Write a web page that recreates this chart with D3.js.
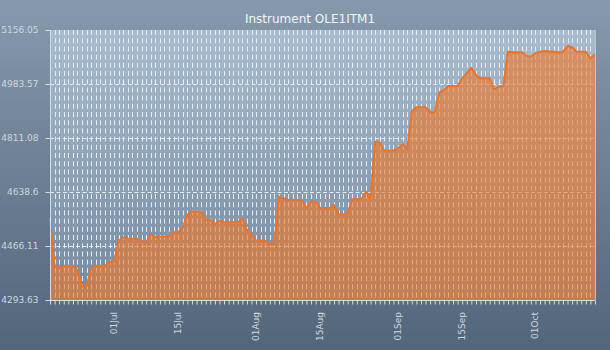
<!DOCTYPE html>
<html><head><meta charset="utf-8">
<script src="https://cdn.jsdelivr.net/npm/d3@7"></script>
<style>html,body{margin:0;padding:0;background:#fff}svg{display:block}</style>
</head><body>
<svg id="chart" width="610" height="350"></svg>
<script>
const chartTitle = "Instrument OLE1ITM1";
const xDomain = ["2014-06-17", "2014-10-14"];
const xLabelDates = ["2014-07-01","2014-07-15","2014-08-01","2014-08-15","2014-09-01","2014-09-15","2014-10-01"];
const yTickValues = [4293.63, 4466.11, 4638.6, 4811.08, 4983.57, 5156.05];
const yTickLabels = ["4293.63", "4466.11", "4638.6", "4811.08", "4983.57", "5156.05"];
const dates = [
 "2014-06-17","2014-06-18","2014-06-19","2014-06-20","2014-06-22","2014-06-23","2014-06-24","2014-06-25","2014-06-26","2014-06-27",
 "2014-06-29","2014-06-30","2014-07-01","2014-07-02","2014-07-03","2014-07-04","2014-07-06","2014-07-07","2014-07-08","2014-07-09",
 "2014-07-10","2014-07-11","2014-07-13","2014-07-14","2014-07-15","2014-07-16","2014-07-17","2014-07-18","2014-07-20","2014-07-21",
 "2014-07-22","2014-07-23","2014-07-24","2014-07-25","2014-07-28","2014-07-29","2014-07-30","2014-08-01","2014-08-03","2014-08-04",
 "2014-08-05","2014-08-06","2014-08-07","2014-08-08","2014-08-11","2014-08-12","2014-08-13","2014-08-14","2014-08-15","2014-08-17",
 "2014-08-18","2014-08-19","2014-08-21","2014-08-22","2014-08-24","2014-08-25","2014-08-26","2014-08-27","2014-08-28","2014-08-29",
 "2014-08-31","2014-09-01","2014-09-02","2014-09-03","2014-09-04","2014-09-05","2014-09-07","2014-09-08","2014-09-09","2014-09-10",
 "2014-09-11","2014-09-12","2014-09-14","2014-09-15","2014-09-16","2014-09-17","2014-09-18","2014-09-19","2014-09-21","2014-09-22",
 "2014-09-23","2014-09-24","2014-09-25","2014-09-26","2014-09-28","2014-09-29","2014-09-30","2014-10-01","2014-10-02","2014-10-03",
 "2014-10-05","2014-10-06","2014-10-07","2014-10-08","2014-10-09","2014-10-10","2014-10-12","2014-10-13","2014-10-14"
];
const values = [
 4554.6,4402.2,4394.9,4402.2,4402.2,4389.5,4336.1,4338.3,4394.9,4402.2,
 4402.2,4416.0,4416.0,4483.0,4493.9,4489.4,4489.4,4479.8,4474.7,4504.4,
 4493.9,4495.8,4495.8,4509.9,4509.9,4525.8,4566.4,4575.7,4575.7,4549.2,
 4549.2,4535.4,4546.9,4541.8,4541.8,4554.6,4517.2,4483.0,4483.0,4472.5,
 4472.5,4623.6,4618.5,4613.0,4613.0,4586.5,4607.6,4607.6,4586.5,4586.5,
 4597.1,4567.4,4567.4,4615.3,4615.3,4639.6,4615.3,4799.2,4796.1,4770.5,
 4770.5,4778.2,4790.9,4775.0,4895.1,4909.1,4909.1,4893.2,4893.2,4955.8,
 4964.4,4977.2,4977.2,5001.7,5017.7,5035.6,5012.3,5001.7,5001.7,4966.6,
 4974.9,4977.2,5086.7,5084.8,5084.8,5074.0,5070.8,5081.6,5086.7,5089.0,
 5086.7,5084.8,5086.7,5104.9,5100.7,5086.7,5086.7,5065.6,5078.4
];

const W = 610, H = 350;
const M = {left: 50, right: 15, top: 30, bottom: 50};
const parse = d3.utcParse("%Y-%m-%d");
const data = dates.map((d, i) => ({date: parse(d), value: values[i]}));

const svg = d3.select("#chart");
const defs = svg.append("defs");
const bgGrad = defs.append("linearGradient").attr("id", "bg").attr("x1", 0).attr("y1", 0).attr("x2", 0).attr("y2", 1);
bgGrad.append("stop").attr("offset", "0%").attr("stop-color", "#8799ac");
bgGrad.append("stop").attr("offset", "100%").attr("stop-color", "#52657a");
const plotGrad = defs.append("linearGradient").attr("id", "plotbg").attr("x1", 0).attr("y1", 0).attr("x2", 0).attr("y2", 1);
plotGrad.append("stop").attr("offset", "0%").attr("stop-color", "#a9bccf");
plotGrad.append("stop").attr("offset", "100%").attr("stop-color", "#75899f");

svg.append("rect").attr("width", W).attr("height", H).attr("fill", "url(#bg)");

const x = d3.scaleUtc().domain(xDomain.map(parse)).range([M.left, W - M.right]);
const y = d3.scaleLinear().domain([yTickValues[0], yTickValues[yTickValues.length - 1]]).range([H - M.bottom, M.top]);

svg.append("rect")
  .attr("x", x.range()[0]).attr("y", y.range()[1])
  .attr("width", x.range()[1] - x.range()[0]).attr("height", y.range()[0] - y.range()[1])
  .attr("fill", "url(#plotbg)");

const gridColor = "#e6ecf2";
const days = d3.utcDay.range(x.domain()[0], d3.utcDay.offset(x.domain()[1], 1));
// vertical grid
svg.append("g").selectAll("line").data(days.slice(1, -1)).join("line")
  .attr("x1", d => Math.round(x(d)) + 0.5).attr("x2", d => Math.round(x(d)) + 0.5)
  .attr("y1", y.range()[1]).attr("y2", y.range()[0])
  .attr("stroke", gridColor).attr("stroke-width", 1).attr("stroke-dasharray", "5,3.2");
// horizontal grid
svg.append("g").selectAll("line").data(yTickValues.slice(1, -1)).join("line")
  .attr("x1", x.range()[0]).attr("x2", x.range()[1])
  .attr("y1", d => Math.round(y(d)) + 0.5).attr("y2", d => Math.round(y(d)) + 0.5)
  .attr("stroke", gridColor).attr("stroke-width", 1).attr("stroke-dasharray", "4,2.5");

// area and line
const area = d3.area().x(d => x(d.date)).y0(y.range()[0]).y1(d => y(d.value));
const line = d3.line().x(d => x(d.date)).y(d => y(d.value));
svg.append("path").datum(data).attr("d", area).attr("fill", "#f07828").attr("fill-opacity", 0.62);
svg.append("path").datum(data).attr("d", line).attr("fill", "none")
  .attr("stroke", "#f27220").attr("stroke-width", 2).attr("stroke-linejoin", "round");

// plot border (left, bottom, right)
const axisColor = "#d5dde6";
svg.append("line").attr("x1", x.range()[1] + 0.5).attr("x2", x.range()[1] + 0.5)
  .attr("y1", y.range()[1]).attr("y2", y.range()[0]).attr("stroke", "#b9c6d3").attr("stroke-width", 1);

// y axis
const yAxis = d3.axisLeft(y).tickValues(yTickValues).tickFormat((d, i) => yTickLabels[i]).tickSize(5).tickPadding(7);
const gy = svg.append("g").attr("transform", `translate(${x.range()[0] + 0.5},0)`).call(yAxis);
gy.select(".domain").attr("stroke", axisColor).attr("d", `M0,${y.range()[1]}V${y.range()[0]}`);
gy.selectAll(".tick line").attr("stroke", axisColor);
gy.selectAll(".tick text").attr("fill", "#cfd7df").attr("font-family", "DejaVu Sans").attr("font-size", 9);

// x axis: daily ticks, labels on selected dates
const xAxisTicks = d3.axisBottom(x).tickValues(days).tickSize(4).tickFormat("");
const gx = svg.append("g").attr("transform", `translate(0,${y.range()[0] + 0.5})`).call(xAxisTicks);
gx.select(".domain").attr("stroke", axisColor).attr("d", `M${x.range()[0]},0H${x.range()[1]}`);
gx.selectAll(".tick line").attr("stroke", axisColor);

const fmt = d3.utcFormat("%d%b");
svg.append("g").selectAll("text").data(xLabelDates.map(parse)).join("text")
  .attr("transform", d => `translate(${x(d)},${y.range()[0] + 12}) rotate(-90)`)
  .attr("text-anchor", "end").attr("dy", "0.33em")
  .attr("fill", "#cfd7df").attr("font-family", "DejaVu Sans").attr("font-size", 9)
  .text(d => fmt(d));

// title
svg.append("text").attr("x", 310).attr("y", 22.5).attr("text-anchor", "middle")
  .attr("fill", "#f2f5f8").attr("font-family", "DejaVu Sans").attr("font-size", 12)
  .text(chartTitle);
</script>
</body></html>
